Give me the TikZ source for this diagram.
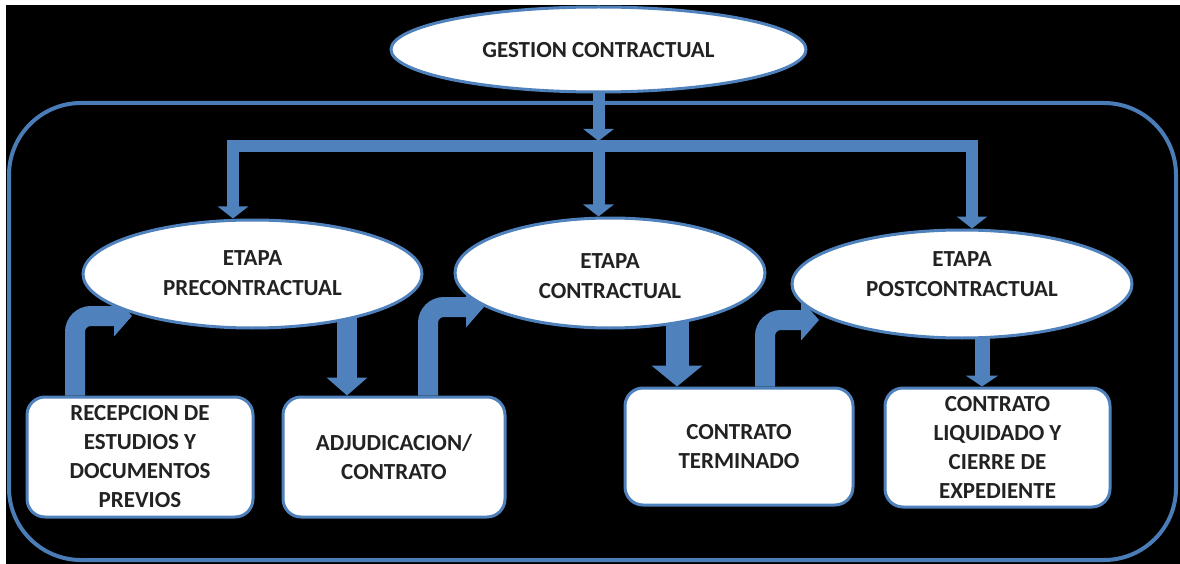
\documentclass[tikz,border=0pt]{standalone}
\usepackage{fontspec}
\setmainfont{Carlito}
\usetikzlibrary{shapes.geometric,arrows.meta}
\definecolor{ablue}{HTML}{4F81BD}
\definecolor{fblue}{HTML}{4A7CB8}
\definecolor{txt}{HTML}{222222}
\pgfdeclarelayer{background}
\pgfsetlayers{background,main}
\tikzset{
  ell/.style={ellipse, draw=ablue, line width=3pt, fill=white, inner sep=0pt},
  lbl/.style={text=txt, align=center, inner sep=0pt, font=\bfseries\fontsize{23}{30}\selectfont},
  boxnode/.style={rectangle, rounded corners=18pt, draw=ablue, line width=3pt, fill=white,
    text=txt, align=center, inner sep=0pt, font=\bfseries\fontsize{23}{29}\selectfont},
  thinarrow/.style={draw=ablue, line width=12pt, line join=miter, -{Triangle[width=30pt,length=12pt]}},
  thinline/.style={draw=ablue, line width=12pt, line join=miter},
  fatarrow/.style={draw=ablue, line width=20pt, -{Triangle[width=40pt,length=18pt]}},
  framebox/.style={rectangle, rounded corners=72pt, draw=fblue, line width=4pt,
    minimum width=1167pt, minimum height=457pt, inner sep=0pt}
}
\begin{document}
\begin{tikzpicture}[x=1pt,y=-1pt]
\useasboundingbox (0,0) rectangle (1180,564);

% ellipses
\node[ell, minimum width=415pt, minimum height=85pt] (gest) at (598.5,49.5) {};
\node[lbl] (gestt) at (598.5,50.5) {GESTION CONTRACTUAL};
\node[ell, minimum width=339pt, minimum height=108pt] (pre) at (252.5,274) {};
\node[lbl] (pret) at (252.5,273) {ETAPA\\PRECONTRACTUAL};
\node[ell, minimum width=310pt, minimum height=110pt] (con) at (610,273) {};
\node[lbl] (cont) at (610,276) {ETAPA\\CONTRACTUAL};
\node[ell, minimum width=340pt, minimum height=108pt] (post) at (962,284) {};
\node[lbl] (postt) at (962,274) {ETAPA\\POSTCONTRACTUAL};

% boxes
\node[boxnode, minimum width=226pt, minimum height=120pt] (rec) at (140,457)
  {RECEPCION DE\\ESTUDIOS Y\\DOCUMENTOS\\PREVIOS};
\node[boxnode, minimum width=222pt, minimum height=120pt] (adj) at (394,457)
  {ADJUDICACION/\\CONTRATO};
\node[boxnode, minimum width=228pt, minimum height=117pt] (ter) at (739,446.5)
  {CONTRATO\\TERMINADO};
\node[boxnode, minimum width=225pt, minimum height=119pt] (liq) at (997.5,447.5)
  {CONTRATO\\LIQUIDADO Y\\CIERRE DE\\EXPEDIENTE};

% helper coordinates
\coordinate (gb) at (598.5,141);
\coordinate (jb) at (598.5,146);
\coordinate (xl) at (233,0);
\coordinate (xr) at (972,0);
\coordinate (xm) at (598.5,0);
\coordinate (x1) at (75,0);
\coordinate (x2) at (428,0);
\coordinate (x3) at (765,0);
\coordinate (d1) at (347,0);
\coordinate (d2) at (677,0);
\coordinate (d3) at (982,0);
\coordinate (t1) at (132,316);
\coordinate (t2) at (484,307);
\coordinate (t3) at (819,320);

\begin{pgfonlayer}{background}
  \fill[white] (0,0) rectangle (1180,564);
  \fill[black] (6,5) rectangle (1180,564);
  \node[framebox] (frame) at (592.5,331.5) {};
  % top distribution
  \draw[thinarrow] (gest.center) -- (gb);
  \draw[thinarrow] (jb) -| (pre.north -| xl);
  \draw[thinarrow] (jb) -| (post.north -| xr);
  \draw[thinarrow] (jb) -- (con.north -| xm);
  % down arrows
  \draw[fatarrow] (pre.center -| d1) -- (adj.north -| d1);
  \draw[draw=ablue, line width=23pt, -{Triangle[width=50pt,length=21pt]}] (con.center -| d2) -- (ter.north -| d2);
  \draw[draw=ablue, line width=15pt, -{Triangle[width=32pt,length=11pt]}] (post.center -| d3) -- (liq.north -| d3);
  % bent arrows
  \draw[fatarrow, rounded corners=16pt] (rec.north -| x1) |- (t1);
  \draw[fatarrow, rounded corners=16pt] (adj.north -| x2) |- (t2);
  \draw[fatarrow, rounded corners=16pt] (ter.north -| x3) |- (t3);
\end{pgfonlayer}
\end{tikzpicture}
\end{document}
